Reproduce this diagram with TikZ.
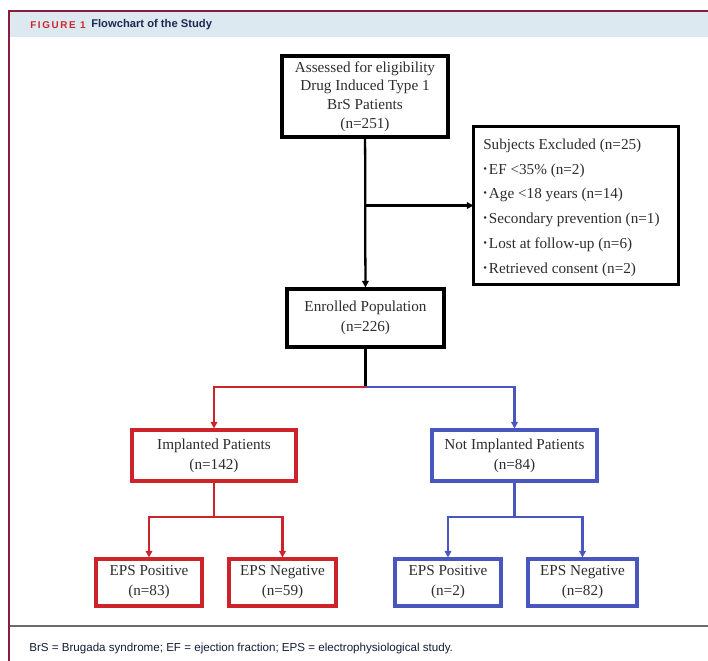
\documentclass[tikz,border=0pt]{standalone}
\usepackage{fontspec}
\setmainfont{Liberation Serif}
\setsansfont{Liberation Sans}
\usetikzlibrary{arrows.meta}
\definecolor{framered}{RGB}{135,28,60}
\definecolor{headblue}{RGB}{221,233,241}
\definecolor{boxred}{RGB}{205,36,44}
\definecolor{boxblue}{RGB}{72,86,190}
\definecolor{navy}{RGB}{30,40,80}
\definecolor{txt}{RGB}{45,45,45}
\tikzset{
  flowbox/.style={draw,line width=2.3pt,align=center,inner sep=2pt,text=txt,
    font=\fontsize{11.4}{15}\selectfont},
  flowline/.style={line width=1.7pt},
  redbox/.style={flowbox,draw=boxred},
  bluebox/.style={flowbox,draw=boxblue},
}
\newcommand{\blt}{\raisebox{0.3ex}{\scalebox{0.7}{\textbullet}}\hspace{1.5pt}}
\begin{document}
\begin{tikzpicture}[x=0.75pt,y=-0.75pt,>={Triangle[length=5pt,width=5pt]},line cap=butt]
\useasboundingbox (0,0) rectangle (708,661);
% frame and header
\fill[white] (0,0) rectangle (708,661);
\fill[headblue] (10,12) rectangle (708,37);
\draw[framered,line width=1.6pt] (9,661) -- (9,11) -- (708,11);
\node[anchor=west,inner sep=0pt,font=\sffamily\bfseries\fontsize{7.4}{8}\selectfont,text=boxred] (fignum) at (30,25) {F\,I\,G\,U\,R\,E\, 1};
\node[anchor=west,inner sep=0pt,font=\sffamily\bfseries\fontsize{8.4}{9}\selectfont,text=navy] (figtitle) at (91,24.5) {Flowchart of the Study};
\draw[gray!85!black,line width=1.5pt] (10,626) -- (708,626);
\node[anchor=west,inner sep=0pt,font=\sffamily\fontsize{8.7}{9}\selectfont,text=navy!70!black] (caption) at (29,648) {BrS = Brugada syndrome; EF = ejection fraction; EPS = electrophysiological study.};
% boxes
\node[flowbox,minimum width=124.5pt,minimum height=60.75pt,font=\fontsize{11.4}{13.9}\selectfont] (assess) at (365,96.5)
  {Assessed for eligibility\\Drug Induced Type 1\\BrS Patients\\(n=251)};
\node[flowbox,minimum width=151.5pt,minimum height=116.25pt,draw=none] (excl) at (576,205.5) {};
\draw[line width=2.3pt] (excl.north west) rectangle (excl.south east);
\node[anchor=north west,align=left,inner sep=0pt,text=txt,font=\fontsize{11.4}{18.6}\selectfont] (excltext) at (483,138.5)
  {Subjects Excluded (n=25)\\
   \blt EF <35\% (n=2)\\
   \blt Age <18 years (n=14)\\
   \blt Secondary prevention (n=1)\\
   \blt Lost at follow-up (n=6)\\
   \blt Retrieved consent (n=2)};
\node[flowbox,minimum width=117.75pt,minimum height=43.5pt] (enrol) at (365.5,318) {Enrolled Population\\(n=226)};
\node[redbox,minimum width=123pt,minimum height=38.25pt] (impl) at (214,455.5) {Implanted Patients\\(n=142)};
\node[bluebox,minimum width=123.75pt,minimum height=38.25pt] (notimpl) at (514.5,455.5) {Not Implanted Patients\\(n=84)};
\node[redbox,minimum width=79.5pt,minimum height=35.25pt] (implpos) at (149,582.5) {EPS Positive\\(n=83)};
\node[redbox,minimum width=80.25pt,minimum height=35.25pt] (implneg) at (282.5,582.5) {EPS Negative\\(n=59)};
\node[bluebox,minimum width=79.5pt,minimum height=35.25pt] (notpos) at (448,582.5) {EPS Positive\\(n=2)};
\node[bluebox,minimum width=81.75pt,minimum height=35.25pt] (notneg) at (582.5,582.5) {EPS Negative\\(n=82)};
% connectors
\coordinate (split) at (365.5,387);
\coordinate (splitred) at (214,517);
\coordinate (splitblue) at (514.5,517);
\draw[flowline,->] (assess) -- (enrol);
\draw[flowline,->] (assess.south |- excl.west) -- (excl.west);
\draw[flowline] (enrol) -- (split);
\draw[flowline,boxred,->] (split) -| (impl);
\draw[flowline,boxblue,->] (split) -| (notimpl);
\draw[flowline,boxred] (impl) -- (splitred);
\draw[flowline,boxred,->] (splitred) -| (implpos);
\draw[flowline,boxred,->] (splitred) -| (implneg);
\draw[flowline,boxblue] (notimpl) -- (splitblue);
\draw[flowline,boxblue,->] (splitblue) -| (notpos);
\draw[flowline,boxblue,->] (splitblue) -| (notneg);
\end{tikzpicture}
\end{document}
